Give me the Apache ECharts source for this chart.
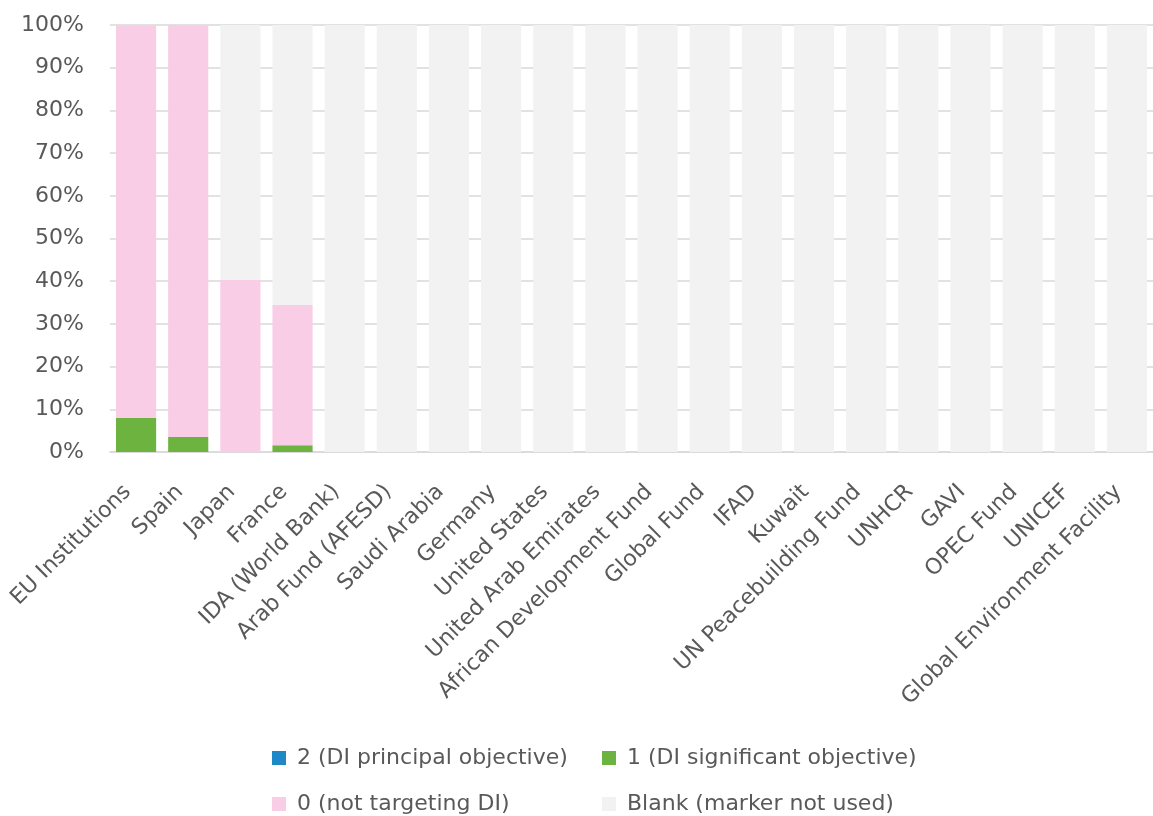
<!DOCTYPE html>
<html>
<head>
<meta charset="utf-8">
<script src="https://cdn.jsdelivr.net/npm/echarts@6/dist/echarts.min.js"></script>
<style>html,body{margin:0;padding:0;background:#fff}#c{width:1153px;height:816px}</style>
</head>
<body>
<div id="c"></div>
<script>
const categories = ["EU Institutions","Spain","Japan","France","IDA (World Bank)","Arab Fund (AFESD)","Saudi Arabia","Germany","United States","United Arab Emirates","African Development Fund","Global Fund","IFAD","Kuwait","UN Peacebuilding Fund","UNHCR","GAVI","OPEC Fund","UNICEF","Global Environment Facility"];
const principal = [0,0,0,0,0,0,0,0,0,0,0,0,0,0,0,0,0,0,0,0];
const significant = [8,3.5,0,1.6,0,0,0,0,0,0,0,0,0,0,0,0,0,0,0,0];
const notTargeting = [92,96.5,40.3,32.8,0,0,0,0,0,0,0,0,0,0,0,0,0,0,0,0];
const blank = [0,0,59.7,65.6,100,100,100,100,100,100,100,100,100,100,100,100,100,100,100,100];
const seriesNames = ["2 (DI principal objective)","1 (DI significant objective)","0 (not targeting DI)","Blank (marker not used)"];
const colors = ["#1f88c6","#6db33f","#f8cde5","#f2f2f2"];

const font = "'DejaVu Sans', sans-serif";
const chart = echarts.init(document.getElementById('c'));
const mk = (i, d) => ({name: seriesNames[i], type:'bar', stack:'s', data:d, barCategoryGap:'23%', itemStyle:{color:colors[i]}, emphasis:{disabled:true}});
chart.setOption({
  animation:false,
  grid:{left:110, right:0, top:25, bottom:364},
  legend:{
    left:267, top:735, width:690, itemWidth:14, itemHeight:14, itemGap:10,
    icon:'rect',
    textStyle:{fontFamily:font, fontSize:22, color:'#595959', width:295, lineHeight:36, padding:[0,0,0,6]},
    data:seriesNames
  },
  xAxis:{type:'category', data:categories,
    axisLine:{lineStyle:{color:'#d9d9d9', width:1.5}}, axisTick:{show:false},
    axisLabel:{rotate:45, interval:0, fontFamily:font, fontSize:22, color:'#595959', margin:28, padding:[0,12,0,0]}},
  yAxis:{type:'value', min:0, max:100, interval:10,
    axisLabel:{formatter:'{value}%', fontFamily:font, fontSize:22, color:'#595959', margin:26},
    splitLine:{lineStyle:{color:'#d9d9d9', width:1.5}}, axisLine:{show:false}, axisTick:{show:false}},
  series:[mk(0,principal), mk(1,significant), mk(2,notTargeting), mk(3,blank)]
});
</script>
</body>
</html>
